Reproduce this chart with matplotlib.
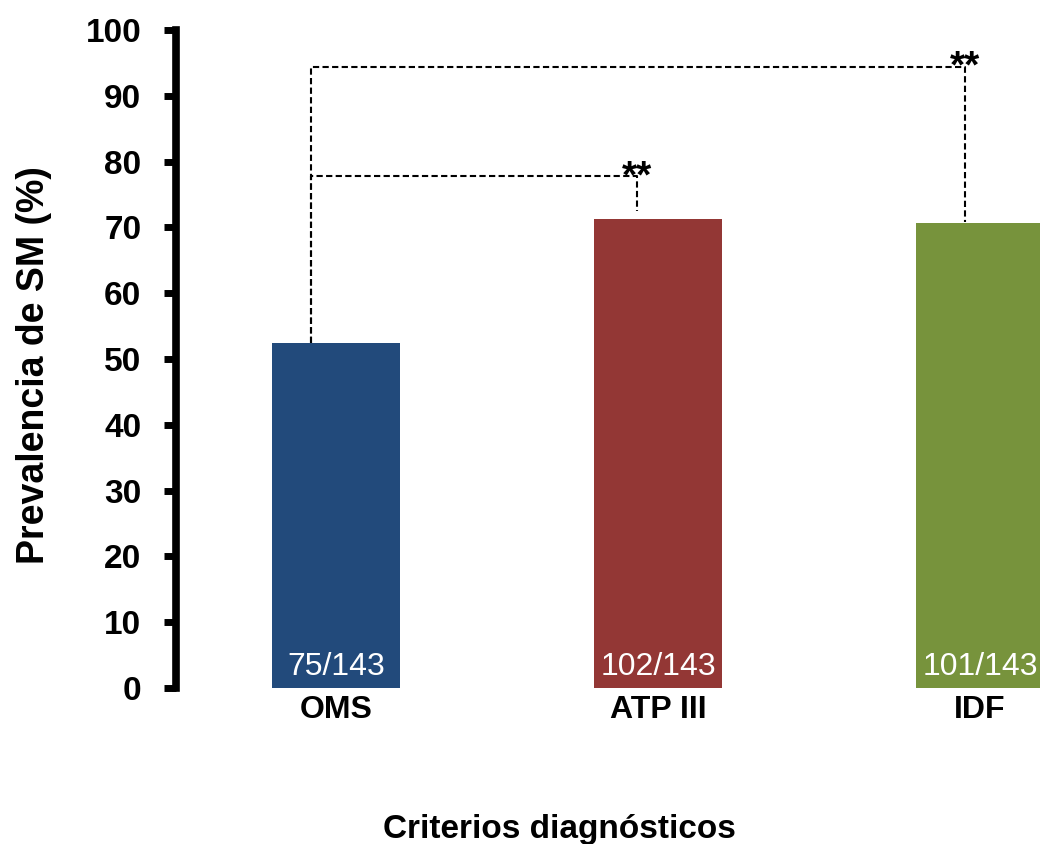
import matplotlib.pyplot as plt
import numpy as np

categories = ["OMS", "ATP III", "IDF"]
prevalence = [52.4, 71.3, 70.6]
bar_labels = ["75/143", "102/143", "101/143"]
colors = ["#224A7B", "#933735", "#77933C"]
yticks = list(range(0, 101, 10))

# significance brackets: (x_left, x_right, y_level, y_left_start, y_right_end)
brackets = [
    (-0.078, 0.935, 77.8, 52.4, 72.5),
    (-0.078, 1.953, 94.4, 52.4, 70.8),
]

plt.rcParams["font.family"] = ["Liberation Sans", "DejaVu Sans"]

fig = plt.figure(figsize=(10.4, 8.44), dpi=100)
ax = fig.add_axes([176 / 1040, 1 - 688 / 844, 1 - 176 / 1040, (688 - 30) / 844])

x = np.arange(len(categories))
ax.bar(x, prevalence, width=0.40, color=colors, zorder=2)

for xi, lab in zip(x, bar_labels):
    ax.text(xi, 0.85, lab, ha="center", va="bottom", color="white", fontsize=23,
            clip_on=False)

dash = (0, (3.0, 1.6))
for xl, xr, yl, y0, y1 in brackets:
    ax.plot([xl, xl, xr, xr], [y0, yl, yl, y1], color="black", lw=1.5,
            linestyle=dash, zorder=3)
    ax.text(xr, yl - 2.9, "**", ha="center", va="bottom", fontsize=28,
            fontweight="bold")

ax.set_xlim((176 - 336) / 322, (1040 - 336) / 322)
ax.set_ylim(0, 100)
ax.set_yticks(yticks)
ax.set_xticks(x)
ax.set_xticklabels(categories, fontsize=23, fontweight="bold")
ax.tick_params(axis="x", length=0, pad=5)
ax.tick_params(axis="y", length=9, width=5, labelsize=24, pad=16)
for lab in ax.get_yticklabels():
    lab.set_fontweight("bold")

for side in ["top", "right", "bottom"]:
    ax.spines[side].set_visible(False)
ax.spines["left"].set_linewidth(5.5)

ax.set_ylabel("Prevalencia de SM (%)", fontsize=27, fontweight="bold")
ax.yaxis.set_label_coords((52 - 176) / 864, (688 - 365) / 658)
fig.text(559 / 1040, 6 / 844, "Criterios diagnósticos", ha="center", va="baseline",
         fontsize=24, fontweight="bold")

fig.savefig("out.png", dpi=100)
